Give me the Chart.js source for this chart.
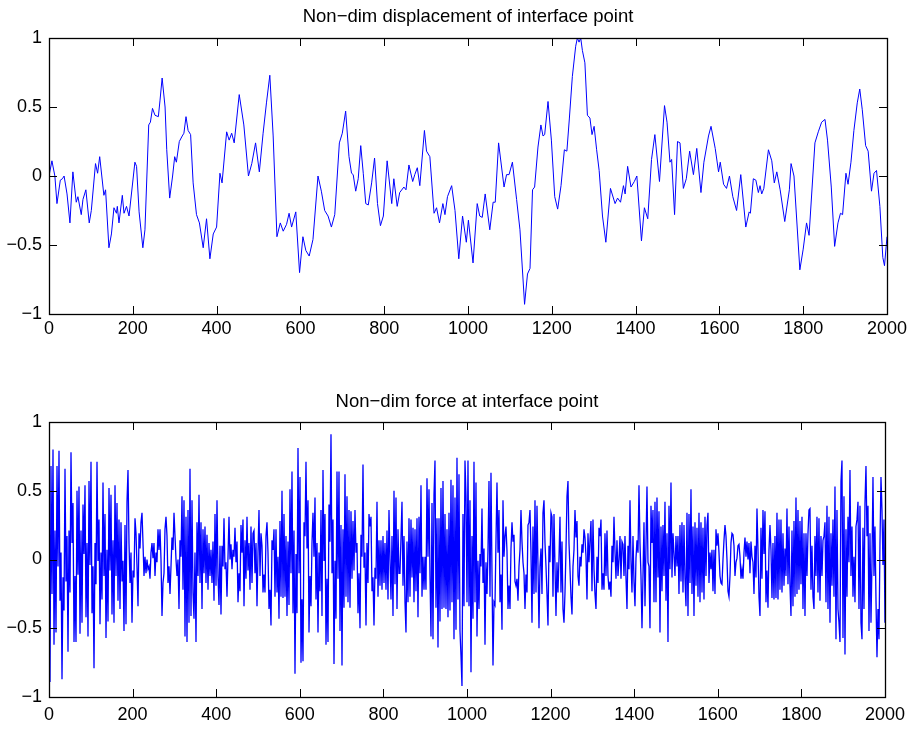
<!DOCTYPE html>
<html>
<script src="https://cdn.jsdelivr.net/npm/chart.js@4.4.1/dist/chart.umd.min.js"></script>
<body style="margin:0;background:#fff">

<div style="position:absolute;left:0;top:0;width:912px;height:364px"><canvas id="dispChart" width="912" height="364"></canvas></div>
<div style="position:absolute;left:0;top:364px;width:912px;height:365px"><canvas id="forceChart" width="912" height="365"></canvas></div>

<script>
    // displacement (time step, value)
    const dispX = [0,7,14,19,27,32,36,43,50,57,65,69,77,81,88,96,101,111,116,121,131,135,143,149,155,161,163,167,175,179,185,191,205,209,215,224,229,238,242,247,253,261,265,270,277,281,288,295,300,304,311,318,322,327,332,338,344,352,359,368,376,384,392,400,408,413,424,430,436,442,454,465,476,484,493,502,
        511,519,527,535,544,552,559,567,573,579,589,598,606,613,621,630,642,650,658,666,674,682,693,700,708,716,722,726,732,738,744,750,756,762,770,777,784,791,798,807,818,823,831,837,847,852,859,868,873,879,885,896,901,909,919,925,932,940,945,951,961,969,978,987,996,1001,
        1012,1022,1028,1034,1041,1052,1060,1065,1073,1086,1092,1098,1106,1116,1124,1135,1142,1148,1154,1159,1167,1174,1179,1183,1191,1199,1207,1214,1222,1230,1236,1242,1249,1257,1261,1265,1269,1273,1279,1285,1291,1296,1301,1307,1313,1321,1329,1340,1351,1357,1364,1371,1375,1381,1389,1397,1403,1414,1421,1429,1438,1446,1457,1469,1475,1482,1486,1493,1500,
        1506,1514,1521,1529,1538,1546,1556,1563,1574,1580,1590,1598,1602,1610,1617,1624,1632,1641,1651,1663,1671,1674,1681,1687,1693,1697,1701,1706,1717,1725,1731,1737,1745,1756,1767,1771,1778,1792,1800,1808,1814,1828,1836,1844,1852,1858,1867,1875,1883,1889,1894,1902,1907,1914,1921,1929,1935,1941,1949,1955,1963,1969,1975,1983,1990,1994,2000];
    const dispY = [0,0.11,0,-0.2,-0.03,-0.02,0,-0.13,-0.34,0.03,-0.19,-0.15,-0.28,-0.17,-0.1,-0.34,-0.25,0.09,0.02,0.14,-0.14,-0.1,-0.52,-0.42,-0.23,-0.27,-0.22,-0.34,-0.14,-0.27,-0.22,-0.29,0.1,0.07,-0.26,-0.52,-0.39,0.37,0.39,0.49,0.44,0.43,0.55,0.71,0.5,0.19,-0.16,0,0.14,0.1,0.25,0.29,0.31,0.43,0.33,0.3,-0.05,-0.28,-0.34,-0.52,-0.31,-0.6,-0.42,-0.37,0.02,-0.05,0.32,0.26,0.31,0.24,0.59,0.37,0,0.09,0.24,0.03,
        0.31,0.53,0.73,0.29,-0.44,-0.34,-0.4,-0.35,-0.27,-0.37,-0.26,-0.7,-0.44,-0.54,-0.58,-0.46,0,-0.11,-0.25,-0.29,-0.37,-0.28,0.24,0.31,0.47,0.14,0.02,0.01,-0.11,-0.02,0.22,0.02,-0.2,-0.21,-0.05,0.13,-0.2,-0.36,-0.29,0.11,-0.2,-0.02,-0.22,-0.12,-0.08,-0.1,0.08,-0.04,0.01,0.06,-0.07,0.33,0.18,0.14,-0.27,-0.23,-0.34,-0.2,-0.28,-0.15,-0.07,-0.25,-0.6,-0.29,-0.48,-0.32,
        -0.63,-0.2,-0.29,-0.3,-0.13,-0.39,-0.19,-0.19,0.24,-0.08,0.01,0.01,0.1,-0.17,-0.39,-0.93,-0.71,-0.67,-0.1,-0.08,0.21,0.37,0.29,0.3,0.54,0.26,-0.15,-0.24,-0.07,0.19,0.18,0.42,0.72,0.94,1,0.97,1,0.91,0.82,0.44,0.42,0.3,0.36,0.19,0.04,-0.29,-0.48,-0.09,-0.2,-0.16,-0.19,-0.07,-0.13,0.07,-0.08,-0.04,0,-0.47,-0.23,-0.31,0.12,0.3,-0.04,0.51,0.39,0.1,0.12,-0.28,0.25,
        0.24,-0.09,-0.02,0.18,0.01,0.2,-0.12,0.1,0.29,0.36,0.2,0.03,0.1,-0.06,-0.09,0,-0.15,-0.25,0.01,-0.37,-0.26,-0.27,-0.02,-0.03,-0.12,-0.07,-0.13,-0.09,0.19,0.11,-0.05,0.03,-0.1,-0.33,-0.1,0.09,0,-0.68,-0.53,-0.34,-0.43,0.24,0.32,0.39,0.41,0.26,-0.08,-0.51,-0.34,-0.27,-0.28,0.02,-0.06,0.1,0.33,0.53,0.63,0.48,0.22,0.18,-0.11,0.02,0.04,-0.22,-0.59,-0.65,-0.44];

    // force in four stretches of about 500 steps each
    const forceA = [0.07,-0.89,0.68,-0.25,0.8,-0.62,0.21,-0.53,0.68,-0.05,0.79,-0.3,0.05,-0.87,-0.13,-0.37,0.66,-0.16,0.17,-0.67,0.21,-0.24,0.78,0.12,0.41,-0.6,-0.12,-0.6,0.5,-0.11,0.53,-0.54,0.21,-0.46,0.4,0.04,0.54,-0.42,0.12,-0.56,0.57,-0.04,0.71,-0.39,-0.05,-0.79,0.12,-0.18,0.71,-0.01,0.29,-0.47,0.05,-0.29,0.56,-0.12,0.33,-0.57,0.07,-0.45,0.52,-0.08,0.47,-0.4,0.14,-0.46,0.54,-0.12,0.41,-0.3,0.29,-0.36,0.27,-0.16,-0.01,-0.52,0.25,-0.47,0.42,0.65,0.12,-0.17,0.05,-0.46,-0.08,-0.13,0.3,0.19,-0.05,-0.34,0.19,0.08,0.27,0.34,0.12,-0.12,0.02,-0.1,0,-0.07,-0.05,-0.14,0.05,0.12,0.01,0.12,-0.12,0.05,-0.02,0.22,0.07,0.22,0,-0.41,-0.17,-0.1,0.22,0.31,0.17,-0.17,-0.05,-0.25,-0.05,0.16,0.07,0.34,0.17,0,-0.12,0,-0.36,0.14,0.02,0.46,-0.22,0.43,-0.56,0.31,-0.6,0.36,-0.46,0.66,-0.41,0.43,-0.24,-0.43,0.05,-0.6,0.27,-0.12,0.47,-0.17,0.27,-0.36,0.22,-0.1,0.24,-0.17,0.18,-0.22,0.12,-0.12,0.07,-0.17,0.13,-0.3,0.33,-0.19,0.43,-0.12,-0.33,0.1,-0.4,0.1,-0.05,0.3,-0.07,-0.02,-0.27,0.02,0.31,0,0.11,-0.07,0.07,0.02,0.23,-0.02,0.13,-0.31,-0.1,-0.23,0.25,0.05,0.29,-0.34,0.14,-0.14,0.31,-0.08,0.12,-0.22,0.24,-0.17,0.19,0.21,-0.1,0.12,-0.34];
    const forceB = [0.05,0.36,-0.12,0.19,0.1,-0.24,-0.11,-0.24,0.17,0.27,0.05,-0.36,-0.22,-0.48,0.14,0.07,0.22,-0.27,0.22,-0.24,0.02,-0.43,0.28,-0.27,0.5,-0.28,0.33,-0.27,0.17,-0.41,0.13,-0.33,0.51,-0.1,0.64,-0.39,0.21,-0.83,0.04,-0.39,0.81,-0.1,0.6,-0.75,-0.29,-0.74,0.27,0.17,0.71,0.08,0.43,-0.53,-0.12,-0.34,0.12,0.34,0.02,0.45,-0.29,0.12,-0.53,0.05,-0.23,0.36,-0.41,0.65,-0.01,0.33,-0.62,-0.14,-0.6,0.4,0.13,0.91,-0.1,0.29,-0.76,-0.01,-0.43,0.64,-0.14,0.64,-0.52,0.25,-0.77,0.22,-0.35,0.62,-0.27,0.46,-0.31,0.36,-0.35,0.35,-0.14,0.28,-0.08,0.36,0.05,0.12,-0.39,-0.1,-0.5,0.18,0.02,0.69,-0.06,0.05,-0.48,0.12,-0.17,0.33,0.24,0.31,-0.23,-0.13,-0.48,-0.06,-0.14,0.42,-0.27,0.14,-0.19,0.14,-0.22,0.17,-0.17,0.12,-0.22,0.21,-0.29,0.36,0,-0.29,0.17,-0.41,0.5,-0.18,0.45,-0.36,0.22,-0.1,-0.1,0.16,0.42,-0.19,0.17,-0.31,-0.53,0.13,-0.31,0.3,-0.27,0.29,-0.13,0.23,-0.31,0.22,-0.23,0.3,-0.42,0.31,-0.1,0.54,-0.27,0.02,-0.22,0.02,-0.22,0.59,0.02,0.51,-0.12,-0.56,0.41,-0.58,0.47,0.72,-0.35,0.3,-0.64,0.3,-0.45,0.52,-0.36,0.57,-0.35,0.33,-0.36,0.22,-0.42,0.34,-0.37,0.58,-0.31,0.54,-0.58,0.45,-0.51,0.74,-0.29,0.62,-0.52,-0.7,-0.92,0.33,-0.34,0.72,0.46,-0.31];
    const forceC = [0.72,-0.34,0.43,-0.82,0.17,-0.43,0.71,-0.31,0.56,-0.56,-0.01,-0.36,0.04,-0.05,0.37,-0.17,0.08,-0.62,-0.02,-0.25,0.07,0.57,-0.27,0.63,-0.1,-0.77,-0.31,-0.33,0.14,0.56,0.05,0.36,-0.31,-0.11,-0.51,0.43,0.02,0.17,0.24,0.06,-0.36,-0.19,-0.36,0.08,0.27,0.13,0.18,-0.16,-0.19,-0.14,-0.3,-0.05,0.07,0.36,0.13,-0.02,-0.1,-0.36,-0.11,-0.24,0.25,0.27,0.36,0.05,-0.46,0.24,-0.25,0.43,-0.24,0.39,-0.05,-0.5,-0.05,0.08,-0.25,0.34,0.43,0.12,-0.05,-0.25,-0.48,0.1,-0.02,0.34,0.31,-0.27,0.33,-0.05,-0.41,-0.02,-0.24,0.01,0.31,-0.24,0.13,-0.36,-0.46,-0.24,0.07,0.46,0.57,0.12,-0.07,-0.27,-0.4,-0.05,0.07,0.36,0.16,0.28,-0.12,-0.19,0.02,-0.05,0.11,0.05,0.22,0.16,0.02,-0.29,0.19,-0.02,0.14,0.28,-0.23,0.29,-0.07,-0.25,-0.36,0.02,-0.17,0.23,0.17,0.29,-0.22,-0.1,-0.22,0.19,-0.12,0.21,-0.12,-0.22,-0.16,-0.27,0.1,-0.02,0.31,0.06,-0.14,0.14,-0.12,0,0.17,-0.14,0.13,0.11,-0.12,0.17,-0.13,-0.36,0.1,-0.07,0.43,-0.01,-0.24,0.17,-0.16,-0.34,0.01,0.14,0.05,0.54,0.12,-0.12,-0.5,-0.12,0.27,-0.34,0.1,0.53,-0.02,-0.05,-0.5,0.39,0.12,0.36,-0.31,0.42,-0.31,0.45,-0.13,0.35,-0.53,0.24,-0.23,0.25,-0.12,0.42,-0.3,0.19,-0.6,0.39,-0.07,0.56,-0.13,0.19,0.04,-0.12,0.17,-0.05,0.17];
    const forceD = [-0.25,0.25,-0.16,0.27,-0.24,0.25,-0.14,-0.34,0.34,-0.41,0.33,-0.17,0.51,-0.25,0.24,-0.41,0.27,-0.19,0.23,-0.27,0.34,-0.31,0.27,-0.24,0.23,-0.29,0.31,-0.12,0.25,0.34,-0.17,0.05,-0.07,0.07,-0.23,0.07,-0.25,0.22,0.1,0.19,0.05,-0.12,-0.17,-0.18,0,0.14,0.25,0.17,0,-0.23,-0.27,-0.12,0.12,0.19,0.18,0.1,-0.12,-0.02,0.01,0.1,0.11,0.02,-0.14,-0.07,-0.14,0.05,0.16,0.02,0.13,0,0.12,-0.1,0.13,0.02,-0.02,-0.25,0.1,-0.13,0.37,0.07,-0.27,-0.41,0.23,-0.14,0.36,0.04,0.35,-0.31,-0.08,-0.35,0.07,0.25,0.07,-0.28,0.12,-0.29,0.17,-0.28,0.34,-0.29,0.29,-0.22,0.29,-0.24,0.19,-0.19,0.08,-0.12,0.37,-0.18,0.24,-0.19,-0.41,0.21,-0.34,0.28,-0.27,0.45,-0.25,0.36,-0.22,0.28,-0.18,0.31,-0.36,0.19,-0.41,0.19,-0.12,0.19,0.36,0.37,-0.22,0.1,-0.27,-0.36,0.17,-0.12,0.31,-0.24,0.3,-0.3,0.17,-0.12,0.14,0.17,0.27,-0.31,0.39,-0.36,0.31,-0.46,0.19,-0.19,0.29,-0.27,0.53,-0.58,0.36,-0.36,-0.46,-0.6,0.57,0.72,-0.57,0.46,-0.69,0.22,-0.27,0.31,-0.02,0.65,-0.12,0.24,-0.27,0.02,-0.31,0.24,0.29,0.42,-0.36,0.39,-0.46,-0.58,0.23,-0.36,0.41,0.68,0.17,0.39,-0.52,0.19,-0.46,-0.02,0.6,-0.12,0.24,-0.29,-0.71,-0.36,-0.58,0.12,0.6,0.36,-0.04,0.29,-0.46];
    const forceY = forceA.concat(forceB, forceC, forceD);

    const xTicks = [0,200,400,600,800,1000,1200,1400,1600,1800,2000];
    const yTicks = [-1,-0.5,0,0.5,1];

    const fontFam = "'Liberation Sans', Arial, Helvetica, sans-serif";

    // MATLAB style box with inward ticks on all four sides, title centred over the axes
    const boxPlugin = {
        id: "box",
        afterDraw(chart, args, opts) {
            const ctx = chart.ctx;
            const a = chart.chartArea;
            const sx = chart.scales.x, sy = chart.scales.y;
            ctx.save();
            ctx.strokeStyle = "#000";
            ctx.lineWidth = 1;
            ctx.beginPath();
            xTicks.forEach(v => {
                const p = Math.round(sx.getPixelForValue(v)) + 0.5;
                ctx.moveTo(p, a.bottom); ctx.lineTo(p, a.bottom - 8);
                ctx.moveTo(p, a.top); ctx.lineTo(p, a.top + 8);
            });
            yTicks.forEach(v => {
                const p = Math.round(sy.getPixelForValue(v)) + 0.5;
                ctx.moveTo(a.left, p); ctx.lineTo(a.left + 8, p);
                ctx.moveTo(a.right, p); ctx.lineTo(a.right - 8, p);
            });
            ctx.stroke();
            ctx.lineWidth = 1.3;
            ctx.strokeRect(Math.round(a.left) + 0.5, Math.round(a.top) + 0.5, Math.round(a.right - a.left), Math.round(a.bottom - a.top));
            ctx.fillStyle = "#000";
            ctx.font = "18.5px " + fontFam;
            ctx.textAlign = "center";
            ctx.textBaseline = "middle";
            ctx.fillText(opts.text, (a.left + a.right) / 2, opts.y);
            ctx.restore();
        }
    };

    function makeOptions(title, titleY, plotTop, xHeight, xPad) {
        return {
            responsive: false,
            animation: false,
            devicePixelRatio: 1,
            layout: { padding: { left: 0, right: 25, top: plotTop, bottom: 0 } },
            plugins: {
                legend: { display: false },
                tooltip: { enabled: false },
                title: { display: false },
                box: { text: title, y: titleY }
            },
            scales: {
                x: {
                    type: "linear",
                    min: 0,
                    max: 2000,
                    afterBuildTicks: s => { s.ticks = xTicks.map(v => ({ value: v })); },
                    afterFit: s => { s.height = xHeight; },
                    grid: { display: false, drawTicks: false },
                    border: { display: false },
                    ticks: {
                        color: "#000",
                        padding: xPad,
                        maxRotation: 0,
                        autoSkip: false,
                        font: { family: fontFam, size: 18 },
                        callback: v => String(v)
                    }
                },
                y: {
                    min: -1,
                    max: 1,
                    afterBuildTicks: s => { s.ticks = yTicks.map(v => ({ value: v })); },
                    afterFit: s => { s.width = 49; },
                    grid: { display: false, drawTicks: false },
                    border: { display: false },
                    ticks: {
                        color: "#000",
                        padding: 7,
                        font: { family: fontFam, size: 18 },
                        callback: v => String(v).replace("-", "\u2212")
                    }
                }
            }
        };
    }

    new Chart(document.getElementById("dispChart"), {
        type: "line",
        data: {
            datasets: [{
                data: dispX.map((x, i) => ({ x: x, y: dispY[i] })),
                borderColor: "#0000ff",
                borderWidth: 1,
                pointRadius: 0,
                tension: 0
            }]
        },
        options: makeOptions("Non\u2212dim displacement of interface point", 17, 38, 50, 4),
        plugins: [boxPlugin]
    });

    new Chart(document.getElementById("forceChart"), {
        type: "line",
        data: {
            datasets: [{
                data: forceY.map((y, i) => ({ x: i * 2000 / (forceY.length - 1), y: y })),
                borderColor: "#0000ff",
                borderWidth: 1.3,
                pointRadius: 0,
                tension: 0
            }]
        },
        options: makeOptions("Non\u2212dim force at interface point", 37.5, 58, 32, 7),
        plugins: [boxPlugin]
    });
</script>

</body>
</html>
